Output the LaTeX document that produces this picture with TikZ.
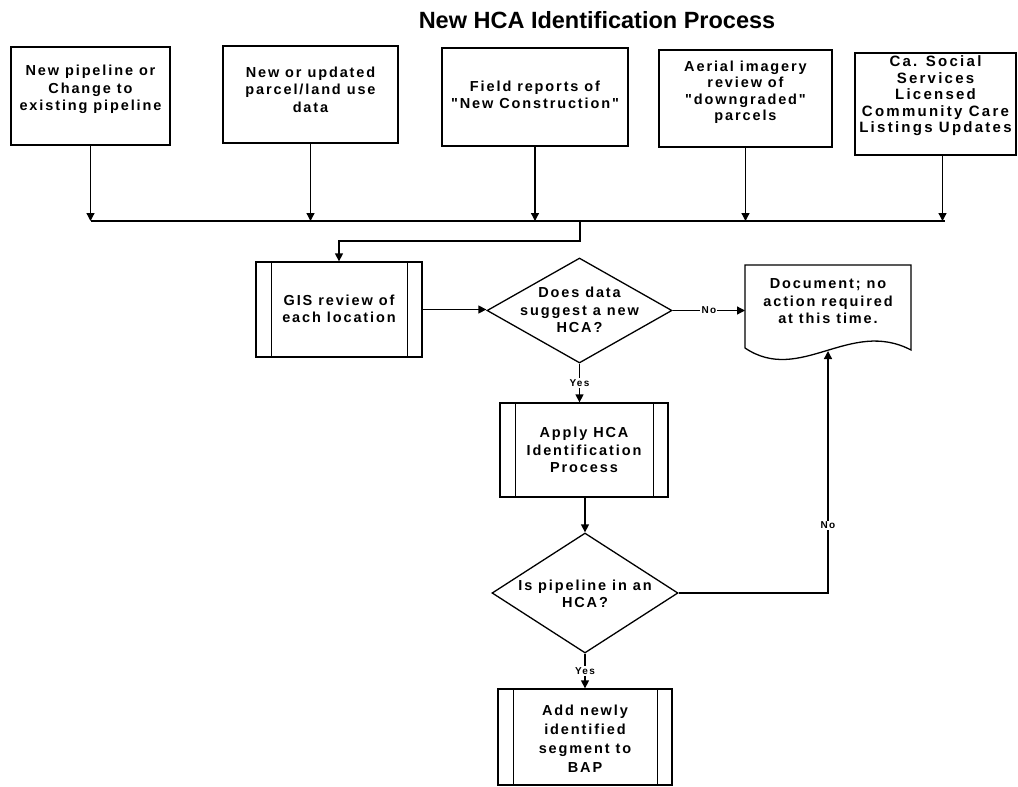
\documentclass[tikz,border=0pt]{standalone}
\usepackage{fontspec}
\setmainfont{Liberation Sans}
\newfontfamily\bxf{Liberation Sans}[LetterSpace=13]
\newfontfamily\bxw{Liberation Sans}[LetterSpace=15]
\usetikzlibrary{arrows.meta,shapes.geometric}
\begin{document}
\begin{tikzpicture}[x=1pt,y=-1pt,line width=1.3pt,
  box/.style={draw,inner sep=0pt},
  txt/.style={font=\bxf\bfseries\fontsize{14.5}{17.5}\selectfont,align=center,inner sep=0pt},
  tighttxt/.style={font=\bxw\bfseries\fontsize{15}{16.5}\selectfont,align=center,inner sep=0pt},
  arr/.style={-{Triangle[length=8pt,width=8pt]}},
  lbl/.style={font=\bxf\bfseries\fontsize{10}{11}\selectfont,fill=white,inner sep=1.2pt},
  dia/.style={diamond,draw,inner sep=0pt}]
\useasboundingbox (0,0) rectangle (1018,787);

% title
\node[font=\bfseries\fontsize{23.5}{27}\selectfont,inner sep=0pt] (title) at (597,20) {New HCA Identification Process};

% source boxes
\node[box,minimum width=159,minimum height=98] (b1) at (90.5,96) {};
\node[txt] (t1) at (90.5,89.5) {New pipeline or\\Change to\\existing pipeline};
\node[box,minimum width=175,minimum height=97] (b2) at (310.5,94.5) {};
\node[txt] (t2) at (310.5,89.5) {New or updated\\parcel/land use\\data};
\node[box,minimum width=186,minimum height=98] (b3) at (535,97) {};
\node[txt] (t3) at (535,95) {Field reports of\\"New Construction"};
\node[box,minimum width=173,minimum height=97] (b4) at (745.5,98.5) {};
\node[tighttxt,font=\bxf\bfseries\fontsize{14.5}{16.5}\selectfont] (t4) at (745.5,92) {Aerial imagery\\review of\\"downgraded"\\parcels};
\node[box,minimum width=161,minimum height=102] (b5) at (935.5,104) {};
\node[tighttxt] (t5) at (935.5,96) {Ca. Social\\Services\\Licensed\\Community Care\\Listings Updates};

% bus line
\coordinate (busL) at (91,221);
\coordinate (busR) at (945,221);
\draw (busL) -- (busR);
\draw[arr] (b1.south) -- (b1.south |- busL);
\draw[arr] (b2.south) -- (b2.south |- busL);
\draw[arr] (b3.south) -- (b3.south |- busL);
\draw[arr] (b4.south) -- (b4.south |- busL);
\coordinate (b5o) at ([xshift=7pt]b5.south);
\draw[arr] (b5o) -- (b5o |- busL);

% GIS review
\node[box,minimum width=166,minimum height=95] (gis) at (339,309.5) {};
\node[txt] (tgis) at (339,309) {GIS review of\\each location};
\coordinate (tap) at (580,221);
\coordinate (bend) at (580,241);
\draw[arr] (tap) -- (bend) -| (gis.north);

% decision 1
\node[dia,minimum width=185,minimum height=105] (d1) at (579.5,310.5) {};
\node[txt] (td1) at (579.5,310) {Does data\\suggest a new\\HCA?};
\draw[arr] (gis.east) -- (gis.east -| d1.west);

% document
\node[txt] (doc) at (828,301.5) {Document; no\\action required\\at this time.};
\coordinate (docTL) at (745,265);
\coordinate (docIn) at (828,351);
\draw (745,348) -- (docTL) -- (911,265) -- (911,350)
  .. controls (850,318) and (800,385) .. (745,348);
\draw[arr] (d1.east) -- node[lbl] {No} (d1.east -| docTL);

% apply
\node[box,minimum width=168,minimum height=94] (ap) at (584,450) {};
\node[txt] (tap2) at (584,450) {Apply HCA\\Identification\\Process};
\draw[arr] (d1.south) -- node[lbl] {Yes} (d1.south |- ap.north);

% decision 2
\node[dia,minimum width=186,minimum height=120] (d2) at (585,593) {};
\node[txt] (td2) at (585,594) {Is pipeline in an\\HCA?};
\draw[arr] (ap.south -| d2.north) -- (d2.north);
\draw[arr] (d2.east) -| node[lbl,pos=0.64] {No} (docIn);

% add
\node[box,minimum width=174,minimum height=96] (add) at (585,737) {};
\node[txt,font=\bxf\bfseries\fontsize{14.5}{19}\selectfont] (tadd) at (585,738.5) {Add newly\\identified\\segment to\\BAP};
\draw[arr] (d2.south) -- node[lbl] {Yes} (add.north);

% inner lines of process boxes
\foreach \n in {gis,ap,add}{
  \draw ([xshift=16pt]\n.north west) -- ([xshift=16pt]\n.south west);
  \draw ([xshift=-15pt]\n.north east) -- ([xshift=-15pt]\n.south east);
}
\end{tikzpicture}
\end{document}
